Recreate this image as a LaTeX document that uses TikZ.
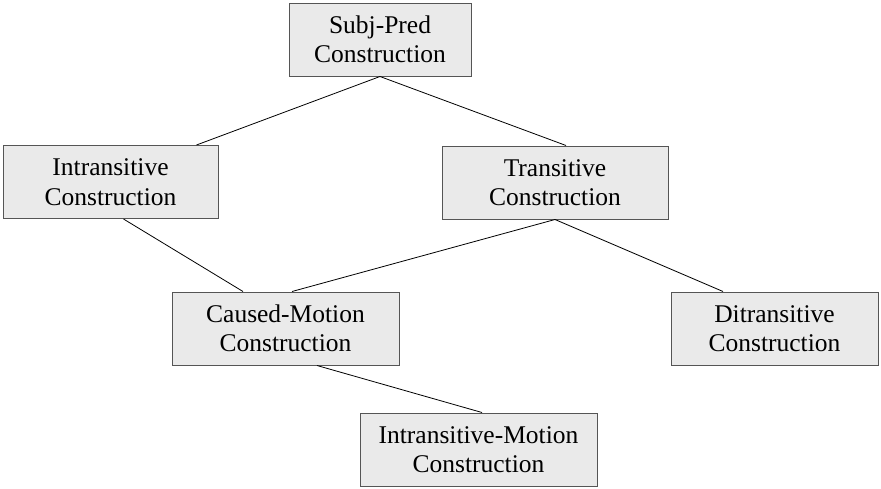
\documentclass[tikz,border=0pt]{standalone}
\usepackage{fontspec}
\setmainfont{Liberation Serif}
\usetikzlibrary{positioning,calc}
\definecolor{BoxFill}{HTML}{EAEAEA}
\definecolor{BoxLine}{HTML}{555555}
\tikzset{
    % grey construction boxes
    construction/.style={
        rectangle,
        draw=BoxLine,
        line width=1pt,
        fill=BoxFill,
        text=black,
        minimum height=73pt,
        inner sep=0pt,
        align=center,
        font=\fontsize{25.5}{29.5}\selectfont
    },
    link/.style={
        line width=0.8pt,
        color=black
    }
}
\begin{document}
\begin{tikzpicture}[x=1pt,y=1pt]
    \useasboundingbox (0,0) rectangle (881,-488);
    \node[construction, minimum width=182pt] (subjpred) at (380,-39.5) {Subj-Pred\\Construction};
    \node[construction, minimum width=215pt] (intrans) at (110.5,-182) {Intransitive\\Construction};
    \node[construction, minimum width=226pt] (trans) at (555,-182.5) {Transitive\\Construction};
    \node[construction, minimum width=227pt] (causedmotion) at (285.5,-328.5) {Caused-Motion\\Construction};
    \node[construction, minimum width=207pt] (ditrans) at (774.5,-328.5) {Ditransitive\\Construction};
    \node[construction, minimum width=237pt] (intransmotion) at (478.5,-449.5) {Intransitive-Motion\\Construction};

    \draw[link] (subjpred.south) -- ([xshift=86pt]intrans.north);
    \draw[link] (subjpred.south) -- ([xshift=11pt]trans.north);
    \draw[link] ([xshift=13pt]intrans.south) -- ([xshift=-42.5pt]causedmotion.north);
    \draw[link] (trans.south) -- ([xshift=6.5pt]causedmotion.north);
    \draw[link] (trans.south) -- ([xshift=-51.5pt]ditrans.north);
    \draw[link] ([xshift=31.5pt]causedmotion.south) -- ([xshift=3.5pt]intransmotion.north);
\end{tikzpicture}
\end{document}
